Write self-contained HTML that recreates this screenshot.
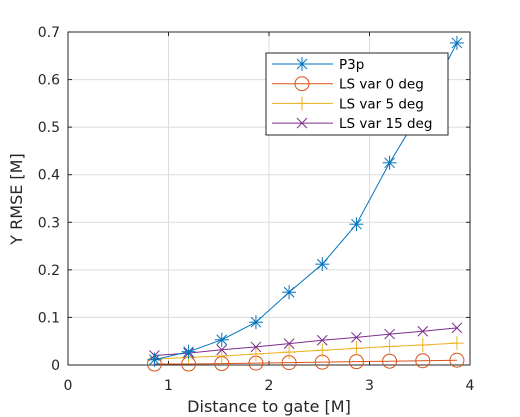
<!DOCTYPE html>
<html><head><meta charset="utf-8"><style>
html,body{margin:0;padding:0;background:#fff;}
svg{display:block;font-family:"DejaVu Sans","Liberation Sans",sans-serif;}
</style></head><body>
<svg id="chart" width="520" height="417" xmlns="http://www.w3.org/2000/svg"></svg>
<script>
const xValues=[0.86,1.2,1.53,1.87,2.2,2.53,2.87,3.2,3.53,3.87];
const p3p=[0.011,0.028,0.053,0.090,0.153,0.212,0.296,0.425,0.54,0.677];
const ls0=[0.002,0.002,0.003,0.004,0.005,0.006,0.007,0.008,0.009,0.010];
const ls5=[0.012,0.016,0.019,0.023,0.027,0.031,0.035,0.039,0.042,0.046];
const ls15=[0.020,0.025,0.032,0.038,0.045,0.052,0.058,0.065,0.071,0.078];
const xTicks=[0,1,2,3,4];
const yTicks=[0,0.1,0.2,0.3,0.4,0.5,0.6,0.7];
const seriesNames=["P3p","LS var 0 deg","LS var 5 deg","LS var 15 deg"];

const L=68,R=470,T=32,B=365;
const sx=v=>L+(v-0)/(4-0)*(R-L);
const sy=v=>B-(v-0)/(0.7-0)*(B-T);
const svg=document.getElementById('chart');
const NS="http://www.w3.org/2000/svg";
function mk(tag,attrs,parent){const e=document.createElementNS(NS,tag);for(const k in attrs)e.setAttribute(k,attrs[k]);(parent||svg).appendChild(e);return e;}

// grid
xTicks.forEach(t=>{const g=mk('line',{x1:sx(t),x2:sx(t),y1:T,y2:B,stroke:'#dcdcdc','stroke-width':1});

});
yTicks.forEach(t=>{const g=mk('line',{x1:L,x2:R,y1:sy(t),y2:sy(t),stroke:'#dcdcdc','stroke-width':1});

});
// axes box
const box=mk('rect',{x:L,y:T,width:R-L,height:B-T,fill:'none',stroke:'#262626','stroke-width':1});


xTicks.forEach(t=>{
 mk('line',{x1:sx(t),x2:sx(t),y1:B,y2:B-4,stroke:'#262626'});
 mk('line',{x1:sx(t),x2:sx(t),y1:T,y2:T+4,stroke:'#262626'});
 const tx=mk('text',{x:sx(t),y:390,'text-anchor':'middle','font-size':14,fill:'#262626'});tx.textContent=t;
 
 
});
yTicks.forEach(t=>{
 mk('line',{x1:L,x2:L+4,y1:sy(t),y2:sy(t),stroke:'#262626'});
 mk('line',{x1:R,x2:R-4,y1:sy(t),y2:sy(t),stroke:'#262626'});
 const tx=mk('text',{x:L-8,y:sy(t)+5,'text-anchor':'end','font-size':14,fill:'#262626'});tx.textContent=t;
 
 
});
const xt=mk('text',{x:269,y:412,'text-anchor':'middle','font-size':16,fill:'#262626'});xt.textContent='Distance to gate [M]';


const yt=mk('text',{x:0,y:0,'text-anchor':'middle','font-size':16,fill:'#262626',transform:'translate(22,199) rotate(-90)'});yt.textContent='Y RMSE [M]';



function marker(type,x,y,c,g){
 const s=7;
 if(type==='star'){[[0,-s,0,s],[-s,0,s,0],[-5,-5,5,5],[-5,5,5,-5]].forEach(a=>mk('line',{x1:x+a[0],y1:y+a[1],x2:x+a[2],y2:y+a[3],stroke:c},g));}
 if(type==='circle'){mk('circle',{cx:x,cy:y,r:7,fill:'none',stroke:c},g);}
 if(type==='plus'){[[0,-s,0,s],[-s,0,s,0]].forEach(a=>mk('line',{x1:x+a[0],y1:y+a[1],x2:x+a[2],y2:y+a[3],stroke:c},g));}
 if(type==='x'){[[-5,-5,5,5],[-5,5,5,-5]].forEach(a=>mk('line',{x1:x+a[0],y1:y+a[1],x2:x+a[2],y2:y+a[3],stroke:c},g));}
}
const series=[[ls0,'#D95319','circle','series-ls-var-0'],[ls5,'#EDB120','plus','series-ls-var-5'],[ls15,'#7E2F8E','x','series-ls-var-15'],[p3p,'#0072BD','star','series-p3p']];
series.forEach(s=>{
 const g=mk('g',{});
 
 
 mk('polyline',{points:xValues.map((x,i)=>sx(x)+','+sy(s[0][i])).join(' '),fill:'none',stroke:s[1],'stroke-width':1},g);
 xValues.forEach((x,i)=>marker(s[2],sx(x),sy(s[0][i]),s[1],g));
});
// legend
const lg=mk('g',{});


mk('rect',{x:266,y:53,width:182,height:82,fill:'#fff',stroke:'#262626'},lg);
const legendCols=['#0072BD','#D95319','#EDB120','#7E2F8E'];
const legendMk=['star','circle','plus','x'];
seriesNames.forEach((n,i)=>{
 const y=64+i*19.7;
 const e=mk('g',{},lg);
 
 
 mk('line',{x1:272,x2:333,y1:y,y2:y,stroke:legendCols[i]},e);
 marker(legendMk[i],302,y,legendCols[i],e);
 const t=mk('text',{x:339,y:y+5,'font-size':13.5,fill:'#000'},e);t.textContent=n;
});
</script>
</body></html>
